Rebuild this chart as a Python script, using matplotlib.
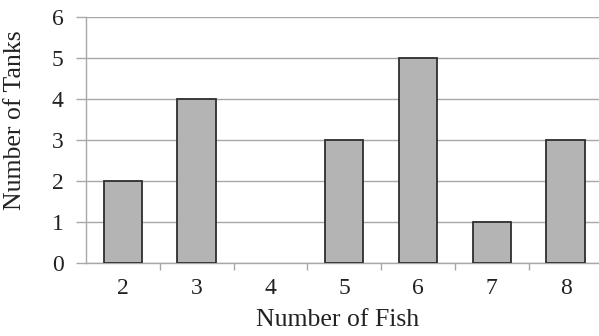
import matplotlib
matplotlib.use("Agg")
import matplotlib.pyplot as plt

fish = [2, 3, 4, 5, 6, 7, 8]
tanks = [2, 4, 0, 3, 5, 1, 3]
y_ticks = [0, 1, 2, 3, 4, 5, 6]

plt.rcParams['font.family'] = ['Liberation Serif', 'DejaVu Serif']

fig = plt.figure(figsize=(5.99, 3.36), dpi=100)
ax_w = (602.5 - 86) / 599
ax = fig.add_axes([86 / 599, 73 / 336, ax_w, 246 / 336])

grid_c = '#a8a8a8'
text_c = '#222222'
bars = ax.bar(fish, tanks, width=0.52, color='#b4b4b4', edgecolor='#2e2e2e',
              linewidth=1.3, zorder=3)
# empty categories get no outline
for b, h in zip(bars, tanks):
    if h == 0:
        b.set_visible(False)

ax.set_xlim(1.5, 8.5)
ax.set_ylim(0, 6)
ax.set_yticks(y_ticks)
ax.set_xticks(fish)
ax.set_xticks([x + 0.5 for x in fish[:-1]], minor=True)
ax.yaxis.grid(True, color=grid_c, linewidth=1.0, zorder=0)

for s in ['top', 'right']:
    ax.spines[s].set_visible(False)
for s in ['left', 'bottom']:
    ax.spines[s].set_color(grid_c)
    ax.spines[s].set_linewidth(1.0)

ax.tick_params(axis='y', length=7, width=1.0, color=grid_c, pad=9,
               labelsize=17, labelcolor=text_c)
ax.tick_params(axis='x', which='major', length=0, pad=11,
               labelsize=17, labelcolor=text_c)
ax.tick_params(axis='x', which='minor', length=5, width=1.0, color=grid_c,
               direction='out')

ax.set_xlabel('Number of Fish', fontsize=18.5, color=text_c)
ax.set_ylabel('Number of Tanks', fontsize=18.5, color=text_c)
ax.xaxis.set_label_coords((338 - 86) / 516.5, -(309 - 263) / 246)
ax.yaxis.set_label_coords((26 - 86) / 516.5, (263 - 120) / 246)

fig.savefig('out.png', dpi=100, facecolor='white')
